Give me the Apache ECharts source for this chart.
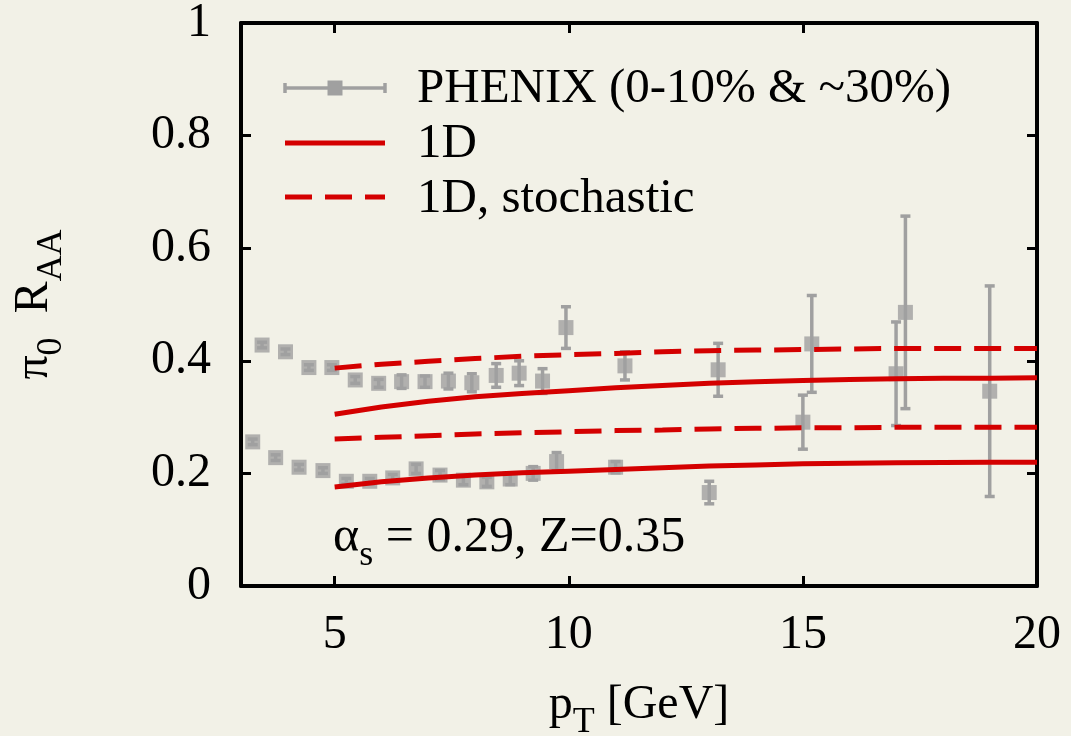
<!DOCTYPE html>
<html>
<head>
<meta charset="utf-8">
<title>pi0 RAA</title>
<script src="https://cdn.jsdelivr.net/npm/echarts@6/dist/echarts.min.js"></script>
<style>
  html, body { margin: 0; padding: 0; background: #f2f1e7; }
  #chart { width: 1071px; height: 736px; }
</style>
</head>
<body>
<div id="chart"></div>
<script>
// PHENIX pi0 R_AA, 0-10% centrality: pT [GeV], value, error
const ptCentral  = [3.25, 3.74, 4.24, 4.75, 5.25, 5.75, 6.24, 6.74, 7.25, 7.75, 8.25, 8.75, 9.24, 9.74, 11.0, 13.0, 15.0, 16.99, 18.99];
const raaCentral = [0.256, 0.228, 0.211, 0.205, 0.186, 0.186, 0.192, 0.208, 0.197, 0.188, 0.185, 0.190, 0.200, 0.221, 0.211, 0.166, 0.291, 0.377, 0.346];
const errCentral = [0.005, 0.005, 0.005, 0.005, 0.005, 0.005, 0.006, 0.008, 0.008, 0.008, 0.008, 0.010, 0.012, 0.016, 0.010, 0.020, 0.048, 0.092, 0.187];

// PHENIX pi0 R_AA, ~30% centrality
const ptPeripheral  = [3.45, 3.95, 4.45, 4.94, 5.44, 5.94, 6.43, 6.93, 7.43, 7.93, 8.45, 8.94, 9.44, 9.94, 11.2, 13.19, 15.19, 17.19];
const raaPeripheral = [0.428, 0.416, 0.388, 0.388, 0.366, 0.360, 0.363, 0.363, 0.364, 0.361, 0.374, 0.378, 0.364, 0.459, 0.391, 0.384, 0.430, 0.486];
const errPeripheral = [0.005, 0.005, 0.005, 0.005, 0.006, 0.007, 0.012, 0.010, 0.014, 0.016, 0.021, 0.022, 0.022, 0.037, 0.025, 0.047, 0.086, 0.171];

// Model curves (1D, and 1D with stochastic fluctuations)
const ptTheory          = [5, 6, 7, 8, 9, 10, 11, 12, 13, 14, 15, 16, 17, 18, 19, 20];
const raa1dCentral      = [0.176, 0.185, 0.192, 0.197, 0.201, 0.204, 0.207, 0.210, 0.213, 0.215, 0.217, 0.218, 0.219, 0.2195, 0.220, 0.220];
const raa1dPeripheral   = [0.305, 0.318, 0.328, 0.336, 0.342, 0.347, 0.352, 0.356, 0.360, 0.363, 0.365, 0.367, 0.368, 0.369, 0.369, 0.370];
const raaStochCentral   = [0.261, 0.264, 0.267, 0.270, 0.272, 0.274, 0.276, 0.277, 0.279, 0.280, 0.281, 0.281, 0.282, 0.282, 0.282, 0.282];
const raaStochPeripheral= [0.387, 0.394, 0.399, 0.404, 0.408, 0.411, 0.413, 0.416, 0.418, 0.419, 0.420, 0.421, 0.422, 0.422, 0.422, 0.422];

const xTicks = [5, 10, 15, 20];
const xTopTicks = [5, 10, 15];

const FONT = 'Liberation Serif';
const GRAY = '#a0a0a0';
const RED = '#d40000';
const FS = 48;
const FS_KEY = 49;

const zip3 = (a, b, c) => a.map((v, i) => [v, b[i], c[i]]);
const zip2 = (a, b) => a.map((v, i) => [v, b[i]]);

function errorBars(params, api) {
  const x = api.value(0), y = api.value(1), e = api.value(2);
  const lo = api.coord([x, y - e]);
  const hi = api.coord([x, y + e]);
  const hw = 5;
  const st = { stroke: GRAY, lineWidth: 3.5 };
  return {
    type: 'group',
    children: [
      { type: 'line', shape: { x1: lo[0], y1: lo[1], x2: hi[0], y2: hi[1] }, style: st },
      { type: 'line', shape: { x1: lo[0] - hw, y1: lo[1], x2: lo[0] + hw, y2: lo[1] }, style: st },
      { type: 'line', shape: { x1: hi[0] - hw, y1: hi[1], x2: hi[0] + hw, y2: hi[1] }, style: st }
    ]
  };
}

// rich-text styles: main glyphs and lowered subscripts (same box height, text pushed down by padding)
const richMain = { fontFamily: FONT, fontSize: FS, lineHeight: 56, color: '#000' };
const richSub = { fontFamily: FONT, fontSize: 36, lineHeight: 20, padding: [36, 0, 0, 0], color: '#000' };
const richNote = { fontFamily: FONT, fontSize: 50, lineHeight: 56, color: '#000' };

const chart = echarts.init(document.getElementById('chart'), null, { renderer: 'canvas' });

const tickStyle = { show: true, inside: true, length: 10, lineStyle: { color: '#000', width: 3 } };
const frameLine = { show: true, onZero: false, lineStyle: { color: '#000', width: 4 } };

chart.setOption({
  animation: false,
  backgroundColor: '#f2f1e7',
  grid: { left: 241, right: 34, top: 23, bottom: 150, containLabel: false, outerBoundsMode: 'none' },
  xAxis: [
    {
      type: 'value', min: 3, max: 20, position: 'bottom',
      axisLine: frameLine,
      axisTick: Object.assign({ customValues: xTicks }, tickStyle),
      axisLabel: { customValues: xTicks, margin: 25, fontFamily: FONT, fontSize: FS, color: '#000' },
      splitLine: { show: false },
      name: '{m|p}{s|T}{m| [GeV]}',
      nameLocation: 'middle',
      nameGap: 91,
      nameTextStyle: { rich: { m: richMain, s: richSub } }
    },
    {
      type: 'value', min: 3, max: 20, position: 'top',
      axisLine: frameLine,
      axisTick: Object.assign({ customValues: xTopTicks }, tickStyle),
      axisLabel: { show: false },
      splitLine: { show: false }
    }
  ],
  yAxis: [
    {
      type: 'value', min: 0, max: 1, interval: 0.2, position: 'left',
      axisLine: frameLine,
      axisTick: tickStyle,
      axisLabel: { margin: 30, fontFamily: FONT, fontSize: FS, color: '#000' },
      splitLine: { show: false },
      name: '{m|π}{s|0}{m|  R}{s|AA}',
      nameLocation: 'middle',
      nameRotate: 90,
      nameGap: 179,
      nameTextStyle: { rich: { m: richMain, s: richSub } }
    },
    {
      type: 'value', min: 0, max: 1, interval: 0.2, position: 'right',
      axisLine: frameLine,
      axisTick: tickStyle,
      axisLabel: { show: false },
      splitLine: { show: false }
    }
  ],
  series: [
    { type: 'custom', name: 'PHENIX 0-10% errors', renderItem: errorBars, data: zip3(ptCentral, raaCentral, errCentral), encode: { x: 0, y: 1 }, z: 2 },
    { type: 'custom', name: 'PHENIX 30% errors', renderItem: errorBars, data: zip3(ptPeripheral, raaPeripheral, errPeripheral), encode: { x: 0, y: 1 }, z: 2 },
    { type: 'scatter', name: 'PHENIX 0-10%', symbol: 'rect', symbolSize: 15, itemStyle: { color: GRAY }, data: zip2(ptCentral, raaCentral), z: 3 },
    { type: 'scatter', name: 'PHENIX 30%', symbol: 'rect', symbolSize: 15, itemStyle: { color: GRAY }, data: zip2(ptPeripheral, raaPeripheral), z: 3 },
    { type: 'line', name: '1D 0-10%', showSymbol: false, lineStyle: { color: RED, width: 5 }, data: zip2(ptTheory, raa1dCentral), z: 4 },
    { type: 'line', name: '1D 30%', showSymbol: false, lineStyle: { color: RED, width: 5 }, data: zip2(ptTheory, raa1dPeripheral), z: 4 },
    { type: 'line', name: '1D stochastic 0-10%', showSymbol: false, lineStyle: { color: RED, width: 5, type: [27, 13] }, data: zip2(ptTheory, raaStochCentral), z: 4 },
    { type: 'line', name: '1D stochastic 30%', showSymbol: false, lineStyle: { color: RED, width: 5, type: [27, 13] }, data: zip2(ptTheory, raaStochPeripheral), z: 4 }
  ],
  graphic: [
    // key
    { type: 'line', shape: { x1: 285, y1: 88, x2: 385, y2: 88 }, style: { stroke: GRAY, lineWidth: 3.5 }, z: 10 },
    { type: 'line', shape: { x1: 285, y1: 83, x2: 285, y2: 93 }, style: { stroke: GRAY, lineWidth: 3.5 }, z: 10 },
    { type: 'line', shape: { x1: 385, y1: 83, x2: 385, y2: 93 }, style: { stroke: GRAY, lineWidth: 3.5 }, z: 10 },
    { type: 'rect', shape: { x: 327.5, y: 80.5, width: 15, height: 15 }, style: { fill: GRAY }, z: 10 },
    { type: 'line', shape: { x1: 285, y1: 143, x2: 385, y2: 143 }, style: { stroke: RED, lineWidth: 5 }, z: 10 },
    { type: 'line', shape: { x1: 285, y1: 197, x2: 385, y2: 197 }, style: { stroke: RED, lineWidth: 5, lineDash: [27, 13] }, z: 10 },
    { type: 'text', x: 417, y: 89, style: { text: 'PHENIX (0-10% & ~30%)', font: FS_KEY + 'px "' + FONT + '"', fill: '#000', verticalAlign: 'middle' }, z: 10 },
    { type: 'text', x: 417, y: 144, style: { text: '1D', font: FS_KEY + 'px "' + FONT + '"', fill: '#000', verticalAlign: 'middle' }, z: 10 },
    { type: 'text', x: 417, y: 199, style: { text: '1D, stochastic', font: FS_KEY + 'px "' + FONT + '"', fill: '#000', verticalAlign: 'middle' }, z: 10 },
    // parameter note
    { type: 'text', x: 333, y: 538, style: { text: '{m|α}{s|s}{m| = 0.29, Z=0.35}', verticalAlign: 'middle', rich: { m: richNote, s: richSub } }, z: 10 }
  ]
});
</script>
</body>
</html>
